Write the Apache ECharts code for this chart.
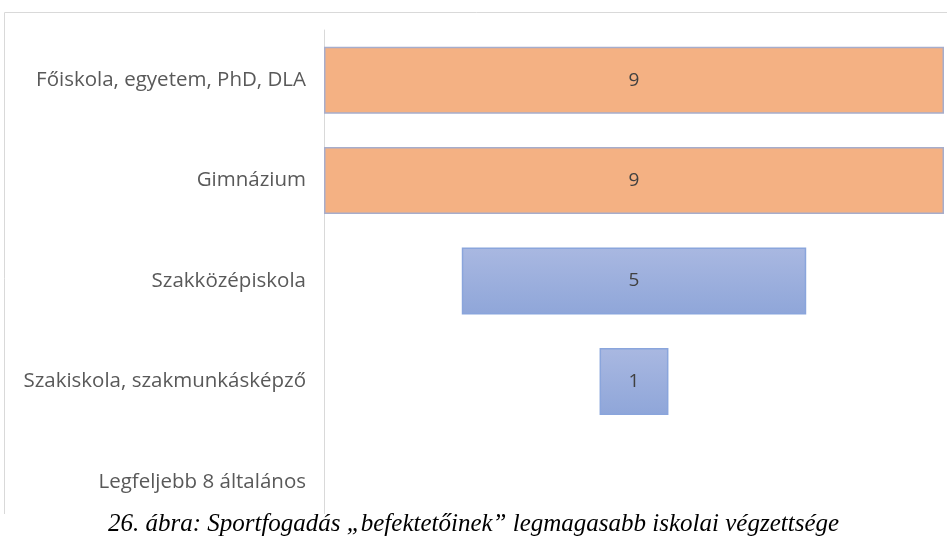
<!DOCTYPE html>
<html>
<head>
<meta charset="utf-8">
<script src="https://cdn.jsdelivr.net/npm/echarts@6/dist/echarts.min.js"></script>
<style>
  html, body { margin: 0; padding: 0; background: #fff; }
  #chart { width: 947px; height: 543px; }
</style>
</head>
<body>
<div id="chart"></div>
<script>
// data (top to bottom)
const categories = [
  'Főiskola, egyetem, PhD, DLA',
  'Gimnázium',
  'Szakközépiskola',
  'Szakiskola, szakmunkásképző',
  'Legfeljebb 8 általános'
]
const values = [9, 9, 5, 1, 0]
const maxValue = 9
const caption = '26. ábra: Sportfogadás „befektetőinek” legmagasabb iskolai végzettsége'

// invisible part that pushes each bar to the centre
const offsets = values.map(v => (maxValue - v) / 2)

const orange = '#F4B183'
const blue = {
  type: 'linear', x: 0, y: 0, x2: 0, y2: 1,
  colorStops: [
    { offset: 0, color: '#A9B8E1' },
    { offset: 1, color: '#8FA6D9' }
  ]
}

const chart = echarts.init(document.getElementById('chart'))

chart.setOption({
  animation: false,
  grid: { left: 324, right: 3, top: 30, bottom: 11 },
  xAxis: {
    type: 'value',
    min: 0,
    max: maxValue,
    show: false
  },
  yAxis: {
    type: 'category',
    data: categories,
    inverse: true,
    axisLine: { lineStyle: { color: '#D9D9D9', width: 1 } },
    axisTick: { show: false },
    axisLabel: {
      color: '#595959',
      fontFamily: 'Open Sans',
      fontSize: 20.5,
      margin: 18
    }
  },
  series: [
    {
      type: 'bar',
      stack: 'funnel',
      data: offsets,
      itemStyle: { color: 'transparent' },
      silent: true,
      barWidth: 67
    },
    {
      type: 'bar',
      stack: 'funnel',
      barWidth: 67,
      data: values.map((v, i) => ({
        value: v,
        itemStyle: v === 0
          ? { color: 'transparent', borderWidth: 0 }
          : i < 2
            ? { color: orange, borderColor: '#A7ADCB', borderWidth: 1.5 }
            : { color: blue, borderColor: '#8AA5DC', borderWidth: 1.5 }
      })),
      label: {
        show: true,
        position: 'inside',
        color: '#404040',
        fontFamily: 'Open Sans',
        fontSize: 19,
        formatter: p => (p.value ? p.value : '')
      }
    }
  ],
  graphic: [
    {
      type: 'rect',
      shape: { x: 4.5, y: 12.5, width: 960, height: 600 },
      style: { fill: 'none', stroke: '#D9D9D9', lineWidth: 1 },
      silent: true,
      z: 1
    },
    {
      type: 'rect',
      shape: { x: 0, y: 514, width: 947, height: 29 },
      style: { fill: '#ffffff' },
      silent: true,
      z: 100
    },
    {
      type: 'text',
      left: 'center',
      top: 512,
      z: 101,
      style: {
        text: caption,
        fill: '#000000',
        font: 'italic 25px "Liberation Serif", "Times New Roman", serif'
      }
    }
  ]
})
</script>
</body>
</html>
